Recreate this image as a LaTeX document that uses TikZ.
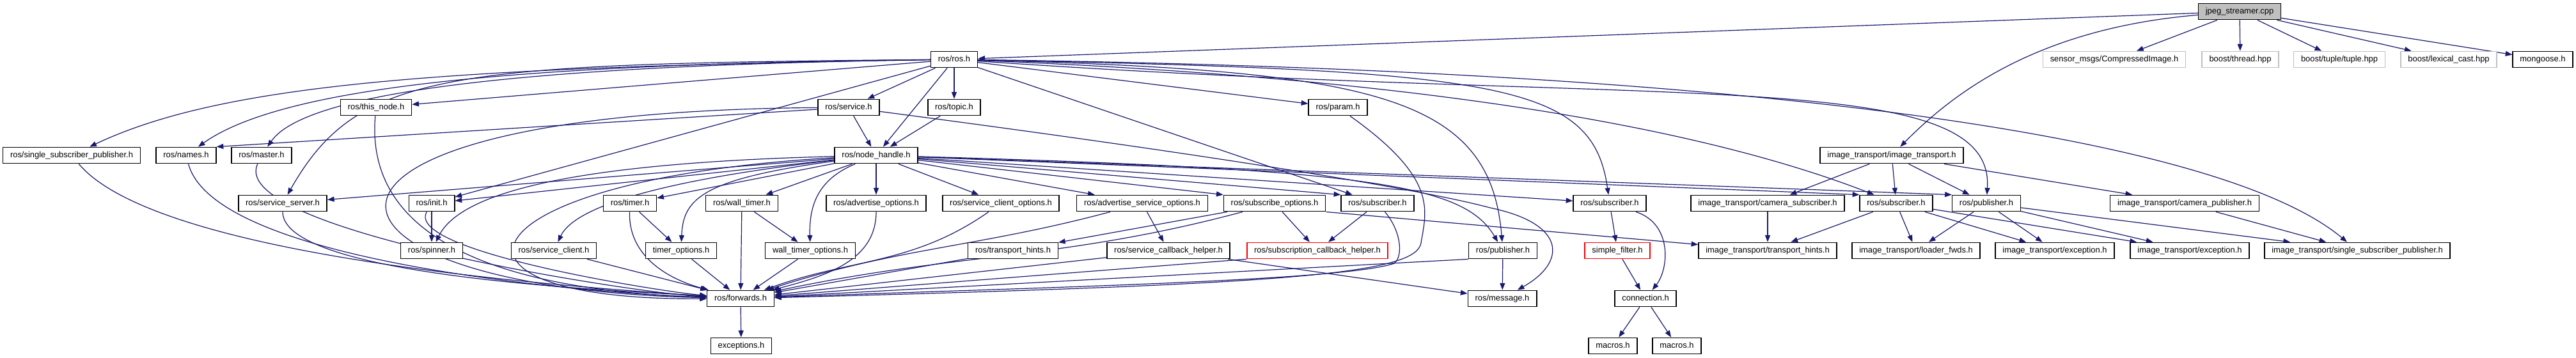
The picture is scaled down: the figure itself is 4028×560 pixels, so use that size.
\documentclass[tikz,border=0pt]{standalone}
\usepackage{fontspec}
\setmainfont{Liberation Sans}
\usepackage{tikz}
\usetikzlibrary{arrows.meta,backgrounds}
\definecolor{edgeblue}{RGB}{25,25,112}
\definecolor{extgray}{RGB}{191,191,191}
\definecolor{rootgray}{RGB}{191,191,191}
\newcommand{\hdrfont}{\fontsize{9.7}{11}\selectfont}
\tikzset{
    hdr/.style={draw=black, line width=1.1pt, fill=white, inner xsep=8.5pt, inner ysep=0pt,
        minimum height=19pt, text height=7.2pt, text depth=2.2pt, font=\hdrfont},
    exthdr/.style={hdr, draw=extgray},
    redhdr/.style={hdr, draw=red},
    roothdr/.style={hdr, fill=rootgray},
    inc/.style={draw=edgeblue, line width=0.9pt, -{Stealth[length=8pt, width=6pt, inset=0pt]}},
}

\begin{document}
\begin{tikzpicture}[x=0.75pt, y=-0.75pt]
    \useasboundingbox (0,0) rectangle (4028,560);

    \node[roothdr] (jpeg) at (3502,18) {jpeg\_streamer.cpp};

    \node[hdr] (ros) at (1492,93) {ros/ros.h};
    \node[exthdr] (cimg) at (3306,93) {sensor\_msgs/CompressedImage.h};
    \node[exthdr] (bthread) at (3503,93) {boost/thread.hpp};
    \node[exthdr] (btuple) at (3658,93) {boost/tuple/tuple.hpp};
    \node[exthdr] (blexcast) at (3829,93) {boost/lexical\_cast.hpp};
    \node[hdr] (mongoose) at (3976,93) {mongoose.h};

    \node[hdr] (thisnode) at (588,168) {ros/this\_node.h};
    \node[hdr] (service) at (1327,168) {ros/service.h};
    \node[hdr] (topic) at (1492,168) {ros/topic.h};
    \node[hdr] (param) at (2092,168) {ros/param.h};

    \node[hdr] (sspub) at (112,243) {ros/single\_subscriber\_publisher.h};
    \node[hdr] (names) at (291,243) {ros/names.h};
    \node[hdr] (master) at (409,243) {ros/master.h};
    \node[hdr] (nh) at (1370,243) {ros/node\_handle.h};
    \node[hdr] (itrans) at (2958,243) {image\_transport/image\_transport.h};

    \node[hdr] (srvserver) at (442,318) {ros/service\_server.h};
    \node[hdr] (init) at (675,318) {ros/init.h};
    \node[hdr] (timer) at (985,318) {ros/timer.h};
    \node[hdr] (walltimer) at (1160,318) {ros/wall\_timer.h};
    \node[hdr] (advopt) at (1370,318) {ros/advertise\_options.h};
    \node[hdr] (scopt) at (1565,318) {ros/service\_client\_options.h};
    \node[hdr] (asopt) at (1786,318) {ros/advertise\_service\_options.h};
    \node[hdr] (subopt) at (1993,318) {ros/subscribe\_options.h};
    \node[hdr] (subA) at (2154,318) {ros/subscriber.h};
    \node[hdr] (subB) at (2517,318) {ros/subscriber.h};
    \node[hdr] (camsub) at (2764,318) {image\_transport/camera\_subscriber.h};
    \node[hdr] (subC) at (2965,318) {ros/subscriber.h};
    \node[hdr] (pubA) at (3106,318) {ros/publisher.h};
    \node[hdr] (campub) at (3416,318) {image\_transport/camera\_publisher.h};

    \node[hdr] (spinner) at (675,392) {ros/spinner.h};
    \node[hdr] (srvclient) at (866,392) {ros/service\_client.h};
    \node[hdr] (timeropt) at (1065,392) {timer\_options.h};
    \node[hdr] (walltimeropt) at (1267,392) {wall\_timer\_options.h};
    \node[hdr] (thints) at (1584,392) {ros/transport\_hints.h};
    \node[hdr] (schelper) at (1827,392) {ros/service\_callback\_helper.h};
    \node[redhdr] (subcbhelper) at (2060,392) {ros/subscription\_callback\_helper.h};
    \node[hdr] (pubB) at (2350,392) {ros/publisher.h};
    \node[redhdr] (sfilter) at (2529,392) {simple\_filter.h};
    \node[hdr] (itthints) at (2764,392) {image\_transport/transport\_hints.h};
    \node[hdr] (loaderfwds) at (2996,392) {image\_transport/loader\_fwds.h};
    \node[hdr] (excA) at (3213,392) {image\_transport/exception.h};
    \node[hdr] (excB) at (3424,392) {image\_transport/exception.h};
    \node[hdr] (itsspub) at (3686,392) {image\_transport/single\_subscriber\_publisher.h};

    \node[hdr] (fwd) at (1158,467) {ros/forwards.h};
    \node[hdr] (message) at (2349,467) {ros/message.h};
    \node[hdr] (connection) at (2573,467) {connection.h};

    \node[hdr] (exceptions) at (1159,541) {exceptions.h};
    \node[hdr] (macrosA) at (2522,541) {macros.h};
    \node[hdr] (macrosB) at (2622,541) {macros.h};

    \begin{pgfonlayer}{background}
    \draw[inc] (jpeg) -- (ros);
    \draw[inc] (jpeg) .. controls (3180,45) and (3050,150) .. (itrans);
    \draw[inc] (jpeg) -- (cimg);
    \draw[inc] (jpeg) -- (bthread);
    \draw[inc] (jpeg) -- (btuple);
    \draw[inc] (jpeg) -- (blexcast);
    \draw[inc] (jpeg) -- (mongoose);

    \draw[inc] (ros) .. controls (700,105) and (350,130) .. (sspub);
    \draw[inc] (ros) .. controls (850,100) and (450,130) .. (names);
    \draw[inc] (ros) .. controls (850,102) and (480,140) .. (master);
    \draw[inc] (ros) .. controls (700,100) and (560,110) .. (srvserver);
    \draw[inc] (ros) -- (thisnode);
    \draw[inc] (ros) -- (init);
    \draw[inc] (ros) -- (service);
    \draw[inc] (ros) -- (topic);
    \draw[inc] (ros) -- (nh);
    \draw[inc] (ros) -- (param);
    \draw[inc] (ros) -- (subA);
    \draw[inc] (ros) .. controls (2150,110) and (2330,150) .. (pubB);
    \draw[inc] (ros) .. controls (2350,110) and (2490,130) .. (subB);
    \draw[inc] (ros) .. controls (2300,125) and (2700,215) .. (subC);
    \draw[inc] (ros) .. controls (2600,170) and (3120,100) .. (pubA);
    \draw[inc] (ros) .. controls (2800,110) and (3480,220) .. (itsspub);

    \draw[inc] (service) -- (nh);
    \draw[inc] (service) -- (names.north east);
    \draw[inc] (service) .. controls (380,175) and (440,450) .. (fwd);
    \draw[inc] (service) .. controls (1800,230) and (2200,290) .. (2330,325)
        .. controls (2450,350) and (2450,410) .. (message);
    \draw[inc] (topic) -- (nh);
    \draw[inc] (param) .. controls (2250,280) and (2230,330) .. (2222,380)
        .. controls (2214,430) and (2000,445) .. (fwd);

    \draw[inc] (thisnode) to[out=-95, in=178] (fwd);
    \draw[inc] (names) to[out=-75, in=178, looseness=0.5] (fwd);
    \draw[inc] (master) to[out=-115, in=177, looseness=0.4] (fwd);
    \draw[inc] (sspub) to[out=-50, in=176, looseness=0.5] (fwd);
    \draw[inc] (srvserver) to[out=-90, in=176, looseness=0.4] (fwd);
    \draw[inc] (init) to[out=-120, in=175, looseness=0.4] (fwd);
    \draw[inc] (init) -- (spinner);

    \draw[inc] (nh) .. controls (720,280) and (640,470) .. (fwd);
    \draw[inc] (nh) .. controls (900,255) and (720,300) .. (spinner);
    \draw[inc] (nh) -- (init);
    \draw[inc] (nh) -- (srvserver);
    \draw[inc] (nh) -- (timer);
    \draw[inc] (nh) -- (walltimer);
    \draw[inc] (nh) .. controls (1050,280) and (900,320) .. (srvclient);
    \draw[inc] (nh) .. controls (1100,280) and (1068,310) .. (timeropt);
    \draw[inc] (nh) .. controls (1280,280) and (1265,320) .. (walltimeropt);
    \draw[inc] (nh) -- (advopt);
    \draw[inc] (nh) -- (scopt);
    \draw[inc] (nh) -- (asopt);
    \draw[inc] (nh) -- (subopt.north west);
    \draw[inc] (nh) -- (subA.north west);
    \draw[inc] (nh) .. controls (2150,265) and (2290,290) .. (pubB);
    \draw[inc] (nh) -- (subB);
    \draw[inc] (nh) -- (subC.north west);
    \draw[inc] (nh) -- (pubA.north west);

    \draw[inc] (timer) to[out=-92, in=165] (fwd);
    \draw[inc] (timer) -- (timeropt);
    \draw[inc] (walltimer) -- (fwd);
    \draw[inc] (walltimer) -- (walltimeropt);
    \draw[inc] (srvclient) -- (fwd);
    \draw[inc] (timeropt) -- (fwd);
    \draw[inc] (walltimeropt) -- (fwd);

    \draw[inc] (advopt) to[out=-90, in=15] (fwd);
    \draw[inc] (scopt) to[out=-145, in=20] (fwd);
    \draw[inc] (asopt) to[out=-165, in=18] (fwd);
    \draw[inc] (asopt) -- (schelper);
    \draw[inc] (subopt) to[out=-165, in=12] (fwd);
    \draw[inc] (subopt) -- (thints);
    \draw[inc] (subopt) -- (subcbhelper);
    \draw[inc] (subopt.south east) -- (itthints);
    \draw[inc] (subA) -- (subcbhelper);
    \draw[inc] (subA) .. controls (2190,360) and (2195,400) .. (2180,412)
        .. controls (2100,440) and (1600,450) .. (fwd);

    \draw[inc] (thints) -- (fwd);
    \draw[inc] (schelper) -- (fwd);
    \draw[inc] (schelper) -- (message);
    \draw[inc] (subcbhelper.south west) -- (fwd);
    \draw[inc] (pubB.south west) -- (fwd);
    \draw[inc] (pubB) -- (message);
    \draw[inc] (fwd) -- (exceptions);

    \draw[inc] (subB) -- (sfilter);
    \draw[inc] (subB) .. controls (2615,350) and (2610,420) .. (connection);
    \draw[inc] (sfilter) -- (connection);
    \draw[inc] (connection) -- (macrosA);
    \draw[inc] (connection) -- (macrosB);

    \draw[inc] (itrans) -- (camsub);
    \draw[inc] (itrans) -- (subC);
    \draw[inc] (itrans) -- (pubA);
    \draw[inc] (itrans) -- (campub);
    \draw[inc] (camsub) -- (itthints);
    \draw[inc] (subC) -- (itthints);
    \draw[inc] (subC) -- (loaderfwds);
    \draw[inc] (subC) -- (excA);
    \draw[inc] (subC) -- (excB);
    \draw[inc] (pubA) -- (loaderfwds);
    \draw[inc] (pubA) -- (excA);
    \draw[inc] (pubA) -- (excB);
    \draw[inc] (pubA) -- (itsspub);
    \draw[inc] (campub) -- (itsspub);
    \end{pgfonlayer}
\end{tikzpicture}
\end{document}
